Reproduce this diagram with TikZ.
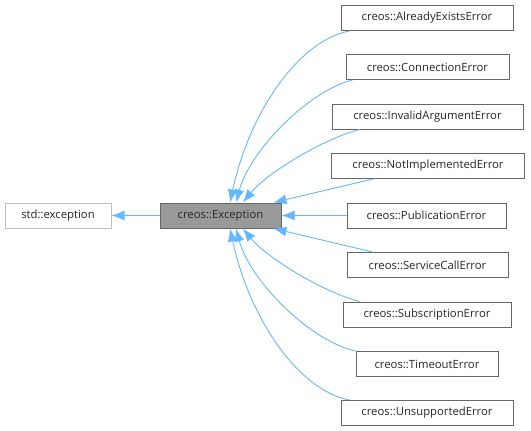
\documentclass[tikz,border=0pt]{standalone}
\usepackage{fontspec}
\setmainfont{Open Sans}
\usetikzlibrary{arrows.meta}
\definecolor{edgeblue}{HTML}{63B8FF}
\definecolor{boxgray}{HTML}{666666}
\definecolor{basegray}{HTML}{BFBFBF}
\definecolor{curfill}{HTML}{999999}
\begin{document}
\begin{tikzpicture}[x=1pt,y=-1pt,
    cls/.style={draw=boxgray,line width=1pt,minimum height=25pt,inner sep=0pt,
      text=black!85,font=\fontsize{11.3}{13}\selectfont},
    base/.style={cls,draw=basegray},
    cur/.style={cls,fill=curfill},
    inh/.style={{Latex[length=13pt,width=10pt]}-,draw=edgeblue,line width=0.9pt}]
    \useasboundingbox (0,0) rectangle (531,431);
    \node[base,minimum width=106pt] (std) at (58,215.5) {std::exception};
    \node[cur,minimum width=121pt] (exc) at (220.5,215.5) {creos::Exception};
    \node[cls,minimum width=172pt] (ae) at (427,18) {creos::AlreadyExistsError};
    \node[cls,minimum width=163pt] (ce) at (427.5,67) {creos::ConnectionError};
    \node[cls,minimum width=191pt] (ia) at (427.5,116.5) {creos::InvalidArgumentError};
    \node[cls,minimum width=193pt] (ni) at (428,166) {creos::NotImplementedError};
    \node[cls,minimum width=159pt] (pe) at (426.5,215.5) {creos::PublicationError};
    \node[cls,minimum width=161pt] (sc) at (427.5,265) {creos::ServiceCallError};
    \node[cls,minimum width=168pt] (su) at (427,314.5) {creos::SubscriptionError};
    \node[cls,minimum width=142pt] (to) at (427,364) {creos::TimeoutError};
    \node[cls,minimum width=172pt] (un) at (427,413) {creos::UnsupportedError};
    \draw[inh] (std.east) -- (exc.west);
    \draw[inh] ([xshift=9.5pt]exc.north) .. controls (250,110) and (300,40) .. ([xshift=9pt]ae.south west);
    \draw[inh] ([xshift=15.5pt]exc.north) .. controls (250,150) and (310,90) .. ([xshift=7pt]ce.south west);
    \draw[inh] ([xshift=22.5pt]exc.north) .. controls (265,175) and (320,140) .. ([xshift=28pt]ia.south west);
    \draw[inh] ([xshift=-8pt]exc.north east) -- ([xshift=42pt]ni.south west);
    \draw[inh] (exc.east) -- (pe.west);
    \draw[inh] ([xshift=-8pt]exc.south east) -- ([xshift=26pt]sc.north west);
    \draw[inh] ([xshift=22.5pt]exc.south) .. controls (265,256) and (320,291) .. ([xshift=17pt]su.north west);
    \draw[inh] ([xshift=15.5pt]exc.south) .. controls (250,281) and (310,341) .. (to.north west);
    \draw[inh] ([xshift=9.5pt]exc.south) .. controls (250,321) and (300,391) .. ([xshift=9pt]un.north west);
\end{tikzpicture}
\end{document}
